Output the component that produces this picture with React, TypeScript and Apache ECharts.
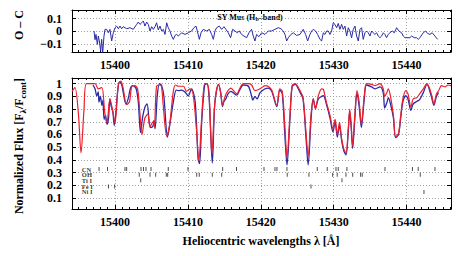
import React, { useEffect, useRef } from "react";
import * as echarts from "echarts";

// ---------- data ----------
const xTickLabels = [15400, 15410, 15420, 15430, 15440];

const modelWave = [
  15394.1, 15394.5, 15394.97, 15395.34, 15395.75, 15396.1, 15397.26, 15397.7, 15398.2, 15398.6,
  15398.9, 15399.3, 15399.7, 15400.0, 15400.45, 15400.8, 15401.1, 15401.6, 15402.0, 15402.3,
  15402.7, 15403.1, 15403.4, 15403.7, 15404.1, 15404.5, 15404.8, 15405.2, 15405.4, 15405.7,
  15406.2, 15406.4, 15406.6, 15407.1, 15407.5, 15408.0, 15408.3, 15408.7, 15409.4, 15409.8,
  15410.3, 15410.7, 15411.2, 15411.5, 15411.9, 15412.3, 15412.6, 15412.9, 15413.3, 15413.7,
  15414.2, 15414.5, 15414.75, 15415.1, 15415.5, 15415.9, 15416.2, 15416.7, 15417.1, 15417.6,
  15418.3, 15418.75, 15419.2, 15419.9, 15420.6, 15421.0, 15421.5, 15422.2, 15422.6, 15422.95,
  15423.3, 15423.6, 15424.0, 15424.3, 15424.7, 15425.4, 15425.8, 15426.2, 15426.5, 15426.9,
  15427.2, 15427.5, 15427.9, 15428.35, 15428.6, 15429.0, 15429.5, 15429.9, 15430.2, 15430.5,
  15430.8, 15431.1, 15431.4, 15431.7, 15432.0, 15432.2, 15432.4, 15432.6, 15432.9, 15433.2,
  15433.5, 15433.8, 15434.2, 15434.5, 15435.2, 15435.7, 15436.35, 15436.8, 15437.0, 15437.3,
  15437.5, 15437.8, 15438.2, 15438.5, 15438.9, 15439.2, 15439.5, 15439.9, 15440.2, 15440.6,
  15440.9, 15441.4, 15441.8, 15442.3, 15442.8, 15443.4, 15443.75, 15444.1, 15444.4, 15444.8,
  15445.3, 15445.7, 15446.1,
];
const modelFlux = [
  0.94, 0.97, 0.77, 0.455, 0.8, 1.0, 1.0, 0.96, 0.97, 0.77,
  0.695, 0.88, 0.78, 0.69, 0.99, 1.02, 0.97, 0.835, 0.86, 0.98,
  0.985, 0.96, 0.78, 0.6, 0.73, 0.76, 0.66, 0.7, 0.66, 0.98,
  0.99, 0.97, 0.84, 0.585, 0.68, 0.94, 0.99, 0.98, 0.98, 0.94,
  0.96, 0.925, 0.625, 0.39, 0.74, 1.0, 1.0, 0.93, 0.45, 0.85,
  0.995, 0.93, 0.83, 0.9, 0.945, 0.965, 0.95, 0.92, 0.96, 1.0,
  1.0, 0.99, 0.945, 0.96, 0.985, 0.98, 0.95, 0.83, 0.96, 0.94,
  0.67, 0.42, 0.75, 0.985, 1.0, 0.945, 0.89, 0.62, 0.43, 0.76,
  0.88, 0.8, 0.905, 0.96, 0.955, 0.855, 0.75, 0.645, 0.72, 0.6,
  0.695, 0.565, 0.485, 0.455, 0.64, 0.8, 0.68, 0.51, 0.75, 0.945,
  0.855, 0.68, 0.905, 1.0, 0.995, 0.985, 1.0, 0.96, 0.9, 0.93,
  0.96, 0.9, 0.75, 0.58, 0.61, 0.75, 0.88, 0.945, 0.92, 0.815,
  0.88, 0.89, 0.92, 0.96, 1.0, 0.92, 0.84, 0.92, 0.945, 0.985,
  0.975, 0.99, 0.985,
];

const obsWave = [
  15396.98, 15397.26, 15397.5, 15397.7, 15397.8, 15398.0, 15398.2, 15398.35, 15398.5, 15398.7,
  15398.9, 15399.1, 15399.3, 15399.45, 15399.7, 15399.9, 15400.1, 15400.4, 15400.6, 15400.9,
  15401.1, 15401.5, 15401.8, 15402.15, 15402.5, 15402.9, 15403.2, 15403.5, 15403.8, 15404.1,
  15404.4, 15404.7, 15404.9, 15405.2, 15405.35, 15405.5, 15405.8, 15406.1, 15406.4, 15406.7,
  15407.2, 15407.5, 15408.0, 15408.4, 15408.7, 15409.15, 15409.6, 15410.05, 15410.5, 15411.0,
  15411.4, 15411.6, 15411.9, 15412.3, 15412.6, 15412.9, 15413.35, 15413.7, 15414.2, 15414.5,
  15414.75, 15414.95, 15415.2, 15415.5, 15415.9, 15416.2, 15416.7, 15417.1, 15417.6, 15418.3,
  15418.75, 15418.9, 15419.2, 15419.5, 15419.9, 15420.6, 15421.0, 15421.5, 15422.2, 15422.6,
  15422.95, 15423.3, 15423.6, 15424.0, 15424.3, 15424.7, 15425.4, 15425.8, 15426.2, 15426.5,
  15426.9, 15427.2, 15427.5, 15427.9, 15428.35, 15428.6, 15429.0, 15429.5, 15429.9, 15430.2,
  15430.5, 15430.8, 15431.1, 15431.4, 15431.7, 15432.0, 15432.2, 15432.4, 15432.6, 15432.9,
  15433.2, 15433.5, 15433.8, 15434.2, 15434.5, 15435.2, 15435.7, 15436.35, 15436.8, 15437.0,
  15437.3, 15437.5, 15437.8, 15438.2, 15438.5, 15438.9, 15439.2, 15439.5, 15439.9, 15440.2,
  15440.6, 15440.9, 15441.4, 15441.8, 15442.3, 15442.8, 15443.4, 15443.75, 15444.1, 15444.4,
];
const obsFlux = [
  0.99, 0.96, 0.905, 0.935, 0.855, 0.9, 0.83, 0.87, 0.72, 0.75,
  0.68, 0.72, 0.88, 0.83, 0.78, 0.67, 0.76, 0.96, 1.015, 0.995,
  0.94, 0.84, 0.88, 0.97, 0.985, 0.96, 0.855, 0.615, 0.74, 0.815,
  0.84, 0.695, 0.655, 0.665, 0.71, 0.645, 0.905, 1.0, 0.985, 0.905,
  0.58, 0.67, 0.855, 0.95, 0.945, 0.95, 0.935, 0.905, 0.96, 0.855,
  0.41, 0.37, 0.7, 0.99, 1.0, 0.9, 0.375, 0.85, 0.995, 0.93,
  0.82, 0.86, 0.88, 0.92, 0.94, 0.93, 0.91, 0.95, 0.99, 0.98,
  0.9, 0.87, 0.9, 0.88, 0.93, 0.96, 0.965, 0.94, 0.82, 0.95,
  0.92, 0.6, 0.36, 0.72, 0.975, 0.995, 0.93, 0.88, 0.58, 0.36,
  0.72, 0.88, 0.81, 0.88, 0.9, 0.905, 0.84, 0.73, 0.62, 0.7,
  0.58, 0.67, 0.55, 0.47, 0.44, 0.62, 0.78, 0.66, 0.49, 0.72,
  0.93, 0.82, 0.655, 0.88, 0.99, 0.975, 0.96, 0.975, 0.93, 0.81,
  0.85, 0.89, 0.84, 0.73, 0.575, 0.6, 0.73, 0.86, 0.905, 0.88,
  0.79, 0.84, 0.86, 0.875, 0.93, 0.995, 0.9, 0.83, 0.9, 0.93,
];

const ocWave = [
  15397.12, 15397.26, 15397.39, 15397.58, 15397.71, 15397.85, 15398.03, 15398.17, 15398.31, 15398.49,
  15398.63, 15398.86, 15399.08, 15399.31, 15399.54, 15399.77, 15400.0, 15400.23, 15400.46, 15400.68,
  15400.91, 15401.14, 15401.6, 15402.06, 15402.51, 15402.97, 15403.2, 15403.43, 15403.66, 15403.89,
  15404.11, 15404.34, 15404.57, 15404.8, 15405.03, 15405.26, 15405.49, 15405.71, 15405.94, 15406.17,
  15406.4, 15406.63, 15406.86, 15407.09, 15407.31, 15407.54, 15407.77, 15408.0, 15408.23, 15408.46,
  15408.69, 15409.14, 15409.6, 15410.06, 15410.51, 15410.83, 15411.11, 15411.29, 15411.57, 15411.8,
  15412.11, 15412.57, 15412.94, 15413.26, 15413.49, 15413.72, 15413.94, 15414.31, 15414.63, 15414.95,
  15415.22, 15415.54, 15415.86, 15416.14, 15416.46, 15416.78, 15417.05, 15417.37, 15417.69, 15418.06,
  15418.38, 15418.74, 15418.97, 15419.2, 15419.43, 15419.75, 15420.12, 15420.58, 15421.03, 15421.49,
  15421.95, 15422.4, 15422.77, 15423.09, 15423.32, 15423.55, 15423.78, 15424.14, 15424.46, 15424.92,
  15425.38, 15425.83, 15426.15, 15426.43, 15426.75, 15426.98, 15427.2, 15427.53, 15427.8, 15428.12,
  15428.35, 15428.58, 15428.81, 15429.03, 15429.26, 15429.49, 15429.72, 15429.95, 15430.18, 15430.41,
  15430.63, 15430.86, 15431.09, 15431.32, 15431.55, 15431.78, 15432.01, 15432.23, 15432.46, 15432.69,
  15432.92, 15433.15, 15433.38, 15433.61, 15433.83, 15434.06, 15434.29, 15434.52, 15434.75, 15434.98,
  15435.21, 15435.43, 15435.66, 15435.89, 15436.12, 15436.35, 15436.58, 15436.81, 15437.03, 15437.26,
  15437.49, 15437.72, 15438.04, 15438.32, 15438.64, 15438.95, 15439.32, 15439.55, 15439.78, 15440.46,
  15440.69, 15441.06, 15441.38, 15441.61, 15441.84, 15442.29, 15442.61, 15442.89, 15443.21, 15443.52,
  15443.89, 15444.26,
];
const ocValue = [
  0.003, -0.066, -0.024, -0.103, -0.037, -0.076, -0.155, -0.063, -0.17, -0.037,
  0.016, 0.016, -0.011, 0.016, -0.076, -0.011, 0.029, 0.042, 0.021, 0.042,
  0.021, 0.037, 0.021, 0.029, 0.016, 0.055, 0.074, 0.055, 0.068, 0.082,
  0.042, 0.074, 0.055, 0.003, 0.037, 0.016, 0.037, 0.068, 0.011, 0.042,
  0.003, 0.016, -0.024, 0.068, 0.029, 0.003, -0.037, -0.063, -0.032, -0.024,
  -0.037, -0.011, -0.024, -0.011, 0.003, 0.029, 0.042, 0.003, -0.063, -0.011,
  0.016, 0.003, 0.016, -0.024, -0.063, 0.003, 0.029, 0.042, 0.016, 0.037,
  0.016, -0.011, -0.05, 0.016, 0.003, -0.011, 0.003, -0.024, -0.037, -0.05,
  -0.011, 0.016, -0.037, -0.076, -0.024, -0.042, -0.011, -0.024, 0.003, 0.003,
  0.016, 0.029, 0.021, 0.003, -0.024, -0.076, -0.05, -0.024, -0.011, -0.032,
  -0.024, 0.016, -0.024, -0.076, -0.024, 0.003, 0.016, 0.003, -0.024, -0.063,
  -0.076, -0.011, -0.024, 0.003, 0.003, -0.024, 0.003, 0.068, 0.055, 0.029,
  0.063, 0.016, 0.055, 0.016, 0.042, -0.037, 0.029, 0.003, -0.05, 0.016,
  0.042, -0.037, -0.076, 0.016, 0.029, -0.063, -0.011, 0.003, -0.011, -0.037,
  0.003, -0.011, -0.024, -0.011, -0.037, -0.05, -0.037, -0.011, -0.024, -0.05,
  -0.024, -0.011, 0.003, -0.011, 0.029, 0.003, -0.011, -0.037, -0.05, -0.05,
  -0.037, -0.05, -0.05, -0.063, -0.05, -0.011, 0.003, -0.016, -0.024, -0.011,
  -0.037, -0.063,
];

const species = ["CN", "OH", "Ti I", "Fe I", "Ni I"];
const speciesLevel = [0.328, 0.283, 0.239, 0.19, 0.147];
const cnLines = [
  15397.81, 15398.97, 15401.37, 15401.6, 15403.57, 15403.91, 15404.25, 15404.94, 15407.31, 15410.01,
  15414.77, 15416.67, 15420.44, 15421.95, 15422.22, 15423.59, 15427.75, 15429.12, 15430.32, 15430.63,
  15431.82, 15437.04, 15440.81, 15441.6, 15443.9,
];
const ohLines = [
  15403.33, 15404.8, 15405.58, 15407.04, 15407.23, 15411.21, 15411.56, 15413.35, 15414.64, 15423.63,
  15426.61, 15429.86, 15430.49, 15431.69, 15432.61, 15433.7, 15433.92, 15441.88,
];
const tiLines = [15403.53, 15431.14];
const feLines = [15399.1, 15399.95, 15426.89];
const niLines = [15442.39];
const speciesLines = [cnLines, ohLines, tiLines, feLines, niLines];
const labelWave = 15395.45;

// ---------- style ----------
const X_MIN = 15394.1;
const X_MAX = 15446.1;
const BLUE = "#2a2aa6";
const RED = "#f01e2a";
const SERIF = "'Liberation Serif', 'DejaVu Serif', serif";
const GRID_LINE = { color: "#a0a0a0", type: [1, 2] as any, width: 1 };

const minorXTicks: number[] = [];
for (let v = Math.ceil(X_MIN); v <= X_MAX; v++) if (v % 10 !== 0) minorXTicks.push(v);

function majorX(gridIndex: number, position: string, showLabel: boolean) {
  return {
    type: "value",
    gridIndex,
    position,
    min: X_MIN,
    max: X_MAX,
    splitNumber: 5,
    axisLine: { show: true, onZero: false, lineStyle: { color: "#000", width: 1 } },
    axisTick: { show: true, inside: true, length: 4, lineStyle: { color: "#000" } },
    axisLabel: {
      show: showLabel,
      margin: 7,
      showMinLabel: false,
      showMaxLabel: false,
      color: "#000",
      fontFamily: SERIF,
      fontWeight: "bold",
      fontSize: 12,
      formatter: (v: number) => (xTickLabels.includes(Math.round(v)) ? String(Math.round(v)) : ""),
    },
    splitLine: { show: position === "bottom", lineStyle: GRID_LINE },
  };
}
function minorX(gridIndex: number, position: string) {
  return {
    type: "value",
    gridIndex,
    position,
    min: X_MIN,
    max: X_MAX,
    axisLine: { show: false, onZero: false },
    axisTick: { show: true, inside: true, length: 2, customValues: minorXTicks, lineStyle: { color: "#000" } },
    axisLabel: { show: false },
    splitLine: { show: false },
  };
}
function yAx(gridIndex: number, position: string, min: number, max: number, splitNumber: number) {
  const left = position === "left";
  return {
    type: "value",
    gridIndex,
    position,
    min,
    max,
    splitNumber,
    axisLine: { show: true, onZero: false, lineStyle: { color: "#000", width: 1 } },
    axisTick: { show: true, inside: true, length: 4, lineStyle: { color: "#000" } },
    axisLabel: {
      show: left,
      margin: 10,
      showMinLabel: false,
      showMaxLabel: false,
      color: "#000",
      fontFamily: SERIF,
      fontWeight: "bold",
      fontSize: 12,
      formatter: (v: number) => String(Math.round(v * 100) / 100).replace("-", "\u2212"),
    },
    splitLine: { show: left, lineStyle: GRID_LINE },
  };
}

export default function App() {
  const ref = useRef<HTMLDivElement>(null);
  useEffect(() => {
    if (!ref.current) return;
    document.body.style.margin = "0";
    const chart = echarts.init(ref.current, undefined, { renderer: "svg" });

    const markerData: any[] = [];
    speciesLines.forEach((lines, i) => lines.forEach((w) => markerData.push([w, speciesLevel[i]])));
    const labelData = species.map((s, i) => [labelWave, speciesLevel[i], s]);

    const option: any = {
      animation: false,
      backgroundColor: "#fff",
      grid: [
        { left: 72, top: 10, width: 379, height: 42 },
        { left: 72, top: 78, width: 379, height: 131 },
      ],
      xAxis: [
        majorX(0, "bottom", true),
        minorX(0, "bottom"),
        majorX(0, "top", false),
        minorX(0, "top"),
        majorX(1, "bottom", true),
        minorX(1, "bottom"),
        majorX(1, "top", false),
        minorX(1, "top"),
      ],
      yAxis: [
        yAx(0, "left", -0.163, 0.169, 3),
        yAx(0, "right", -0.163, 0.169, 3),
        yAx(1, "left", 0.013, 1.045, 10),
        yAx(1, "right", 0.013, 1.045, 10),
      ],
      series: [
        {
          type: "line",
          xAxisIndex: 0,
          yAxisIndex: 0,
          data: ocWave.map((w, i) => [w, ocValue[i]]),
          showSymbol: false,
          clip: true,
          lineStyle: { color: BLUE, width: 1 },
        },
        {
          type: "line",
          xAxisIndex: 4,
          yAxisIndex: 2,
          data: obsWave.map((w, i) => [w, obsFlux[i]]),
          showSymbol: false,
          smooth: 0.3,
          clip: true,
          lineStyle: { color: BLUE, width: 1.3 },
          z: 2,
        },
        {
          type: "line",
          xAxisIndex: 4,
          yAxisIndex: 2,
          data: modelWave.map((w, i) => [w, modelFlux[i]]),
          showSymbol: false,
          smooth: 0.3,
          clip: true,
          lineStyle: { color: RED, width: 1.2 },
          z: 3,
        },
        {
          type: "scatter",
          xAxisIndex: 4,
          yAxisIndex: 2,
          data: markerData,
          symbol: "rect",
          symbolSize: [1, 4],
          itemStyle: { color: "#222" },
          z: 4,
        },
        {
          type: "scatter",
          xAxisIndex: 4,
          yAxisIndex: 2,
          data: labelData,
          symbolSize: 0,
          label: {
            show: true,
            position: "right",
            distance: 0,
            formatter: (p: any) => p.value[2],
            color: "#000",
            fontFamily: SERIF,
            fontWeight: "bold",
            fontSize: 6.5,
            lineHeight: 5,
          },
          z: 4,
        },
      ],
      graphic: [
        {
          type: "text",
          x: 19,
          y: 25,
          rotation: Math.PI / 2,
          style: {
            text: "O \u2013 C",
            fill: "#000",
            font: `bold 12px ${SERIF}`,
            align: "center",
            verticalAlign: "middle",
          },
        },
        {
          type: "text",
          x: 19,
          y: 146,
          rotation: Math.PI / 2,
          style: {
            text: "{m|Normalized Flux [F}{s|\u03bb}{m|/F}{s|cont}{m|]}",
            fill: "#000",
            align: "center",
            verticalAlign: "middle",
            rich: {
              m: { fontFamily: SERIF, fontWeight: "bold", fontSize: 12, lineHeight: 16, fill: "#000" },
              s: { fontFamily: SERIF, fontWeight: "bold", fontSize: 9, lineHeight: 9, verticalAlign: "bottom", fill: "#000" },
            },
          },
        },
        {
          type: "text",
          x: 261,
          y: 241,
          style: {
            text: "Heliocentric wavelengths \u03bb [\u00c5]",
            fill: "#000",
            font: `bold 12px ${SERIF}`,
            align: "center",
            verticalAlign: "middle",
          },
        },
        {
          type: "text",
          x: 250,
          y: 17,
          style: {
            text: "{m|SY Mus (H}{s|b}{m|\u2013band)}",
            fill: "#000",
            align: "center",
            verticalAlign: "middle",
            rich: {
              m: { fontFamily: SERIF, fontWeight: "bold", fontSize: 8, lineHeight: 10, fill: "#000" },
              s: { fontFamily: SERIF, fontWeight: "bold", fontSize: 6, lineHeight: 6, verticalAlign: "bottom", fill: "#000" },
            },
          },
        },
      ],
    };
    chart.setOption(option);
    return () => chart.dispose();
  }, []);
  return <div ref={ref} style={{ width: 458, height: 256 }} />;
}
